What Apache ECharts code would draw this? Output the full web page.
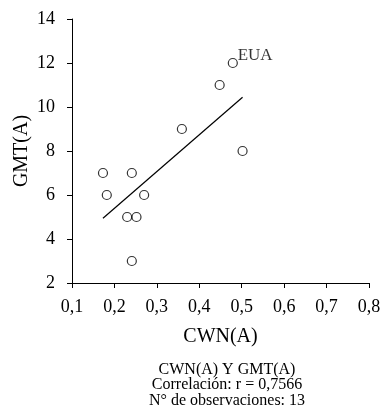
<!DOCTYPE html>
<html>
<head>
<meta charset="utf-8">
<script src="https://cdn.jsdelivr.net/npm/echarts@6/dist/echarts.min.js"></script>
<style>
html, body { margin: 0; padding: 0; background: #fff; }
#chart { width: 382px; height: 419px; }
</style>
</head>
<body>
<div id="chart"></div>
<script>
// observaciones (CWN, GMT)
var cwn = [0.173, 0.182, 0.241, 0.23, 0.252, 0.27, 0.241, 0.359, 0.448, 0.479, 0.502];
var gmt = [7, 6, 7, 5, 5, 6, 3, 9, 11, 12, 8];
var pointNames = ['', '', '', '', '', '', '', '', '', 'EUA', ''];
// recta de regresion (extremos)
var trendX = [0.173, 0.502];
var trendY = [4.94, 10.44];
var xTicks = ['0,1', '0,2', '0,3', '0,4', '0,5', '0,6', '0,7', '0,8'];
var subtitleLines = ['CWN(A) Y GMT(A)', 'Correlación: r = 0,7566', 'N° de observaciones: 13'];

var font = 'Liberation Serif, Times New Roman, serif';
var points = [];
for (var i = 0; i < cwn.length; i++) {
	points.push({ value: [cwn[i], gmt[i]], name: pointNames[i] });
}
var trend = [];
for (var j = 0; j < trendX.length; j++) {
	trend.push([trendX[j], trendY[j]]);
}

var myChart = echarts.init(document.getElementById('chart'));
var option = {
	backgroundColor: '#fff',
	animation: false,
	textStyle: { fontFamily: font, color: '#000' },
	grid: { left: 72, right: 13, top: 19, bottom: 136, containLabel: false, outerBoundsMode: 'none' },
	title: {
		text: subtitleLines.join('\n'),
		left: 222,
		top: 357,
		textAlign: 'center',
		textStyle: { fontFamily: font, fontSize: 16, fontWeight: 'normal', color: '#000', lineHeight: 15.5 }
	},
	xAxis: {
		type: 'value',
		min: 0.1,
		max: 0.8,
		interval: 0.1,
		name: 'CWN(A)',
		nameLocation: 'middle',
		nameGap: 44,
		nameMoveOverlap: false,
		nameTextStyle: { fontFamily: font, fontSize: 20, color: '#000' },
		axisLine: { show: true, lineStyle: { color: '#000', width: 1 } },
		axisTick: { show: true, length: 5, lineStyle: { color: '#000' } },
		axisLabel: {
			fontFamily: font, fontSize: 18, color: '#000', margin: 15,
			formatter: function (v) { return xTicks[Math.round(v * 10) - 1]; }
		},
		splitLine: { show: false }
	},
	yAxis: {
		type: 'value',
		min: 2,
		max: 14,
		interval: 2,
		name: 'GMT(A)',
		nameLocation: 'middle',
		nameGap: 40,
		nameMoveOverlap: false,
		nameTextStyle: { fontFamily: font, fontSize: 20, color: '#000' },
		axisLine: { show: true, lineStyle: { color: '#000', width: 1 } },
		axisTick: { show: true, length: 5, lineStyle: { color: '#000' } },
		axisLabel: { fontFamily: font, fontSize: 18, color: '#000', margin: 17, padding: [0, 0, 5, 0] },
		splitLine: { show: false }
	},
	series: [{
		type: 'line',
		data: trend,
		symbol: 'none',
		lineStyle: { color: '#000', width: 1.2 },
		silent: true
	}, {
		type: 'scatter',
		data: points,
		symbol: 'circle',
		symbolSize: 9,
		itemStyle: { color: '#fff', borderColor: '#000', borderWidth: 1.2 },
		label: {
			show: true,
			position: [10, -11],
			formatter: '{b}',
			fontFamily: font,
			fontSize: 17,
			color: '#000'
		}
	}]
};
myChart.setOption(option);
window.onresize = function () { myChart.resize(); };
</script>
</body>
</html>
